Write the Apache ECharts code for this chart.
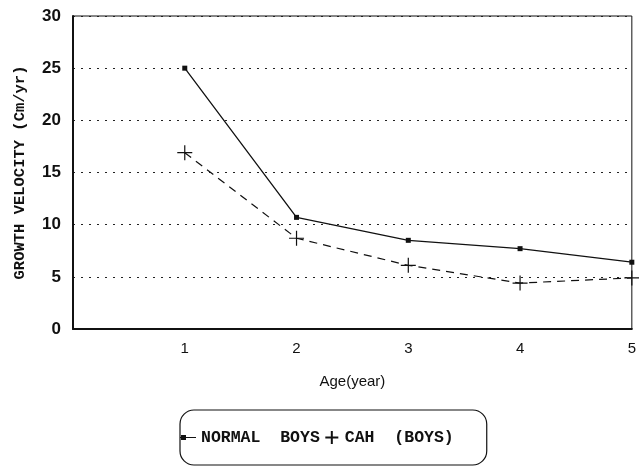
<!DOCTYPE html>
<html>
<head>
<meta charset="utf-8">
<script src="https://cdn.jsdelivr.net/npm/echarts@6/dist/echarts.min.js"></script>
<style>html,body{margin:0;padding:0;background:#fff}#c{width:639px;height:470px}</style>
</head>
<body>
<div id="c"></div>
<script>
var ages = [1, 2, 3, 4, 5];
var normalBoys = [25, 10.7, 8.5, 7.7, 6.4];
var cahBoys = [16.9, 8.7, 6.1, 4.4, 4.9];
var yTicks = [0, 5, 10, 15, 20, 25, 30];

var chart = echarts.init(document.getElementById('c'));
var plus = 'path://M4.6,0h0.8v4.6h4.6v0.8h-4.6v4.6h-0.8v-4.6h-4.6v-0.8h4.6z';
var corners = 'M0,0h0.01v0.01h-0.01z M16,14h-0.01v-0.01h0.01z ';
var legendNormal = 'path://' + corners + 'M0,6.4H1V4.6H6V6.4H16V7.6H6V9.4H1V7.6H0Z';
var legendPlus = 'path://' + corners + 'M7,0.5H9V6H14.5V8H9V13.5H7V8H1.5V6H7Z';
chart.setOption({
  backgroundColor: '#fff',
  animation: false,
  grid: { left: 73, right: 3, top: 16, bottom: 141, show: true, borderColor: '#111', borderWidth: 1, backgroundColor: 'transparent' },
  xAxis: {
    type: 'value', min: 0, max: 5, interval: 1,
    name: 'Age(year)', nameLocation: 'middle', nameGap: 45,
    nameTextStyle: { fontFamily: 'Liberation Sans', fontSize: 15, color: '#111' },
    axisLine: { show: true, lineStyle: { color: '#111', width: 2 } },
    axisTick: { show: false },
    splitLine: { show: false },
    axisLabel: { fontFamily: 'Liberation Sans', fontSize: 15, color: '#111', margin: 12,
      formatter: function (v) { return v === 0 ? '' : String(v); } }
  },
  yAxis: {
    type: 'value', min: 0, max: 30, interval: 5,
    name: 'GROWTH VELOCITY (Cm/yr)', nameLocation: 'middle', nameGap: 45,
    nameTextStyle: { fontFamily: 'Liberation Mono', fontWeight: 'bold', fontSize: 15.5, color: '#111' },
    axisLine: { show: true, lineStyle: { color: '#111', width: 2 } },
    axisTick: { show: false },
    splitLine: { show: true, lineStyle: { type: [2, 6], color: '#222', width: 1.2 } },
    axisLabel: { fontFamily: 'Liberation Sans', fontWeight: 'bold', fontSize: 17, color: '#111', margin: 12,
      formatter: function (v) { return yTicks.indexOf(v) >= 0 ? String(v) : ''; } }
  },
  legend: {
    left: 180, top: 410,
    itemWidth: 16, itemHeight: 14, itemGap: 4,
    padding: [19, 33, 19, 0],
    borderColor: '#111', borderWidth: 1.2, borderRadius: 14,
    formatter: function (n) { return n.replace(' ', '  '); },
    textStyle: { fontFamily: 'Liberation Mono', fontWeight: 'bold', fontSize: 16.5, color: '#111' },
    data: [
      { name: 'NORMAL BOYS', icon: legendNormal, itemStyle: { color: '#111' } },
      { name: 'CAH (BOYS)', icon: legendPlus, itemStyle: { color: '#111' } }
    ]
  },
  series: [
    {
      name: 'NORMAL BOYS', type: 'line',
      data: ages.map(function (a, i) { return [a, normalBoys[i]]; }),
      symbol: 'rect', symbolSize: 5,
      lineStyle: { color: '#111', width: 1.3 },
      itemStyle: { color: '#111' }
    },
    {
      name: 'CAH (BOYS)', type: 'line',
      data: ages.map(function (a, i) { return [a, cahBoys[i]]; }),
      symbol: plus, symbolSize: 15,
      lineStyle: { color: '#111', width: 1.2, type: [8, 6] },
      itemStyle: { color: '#111' }
    }
  ]
});
</script>
</body>
</html>
